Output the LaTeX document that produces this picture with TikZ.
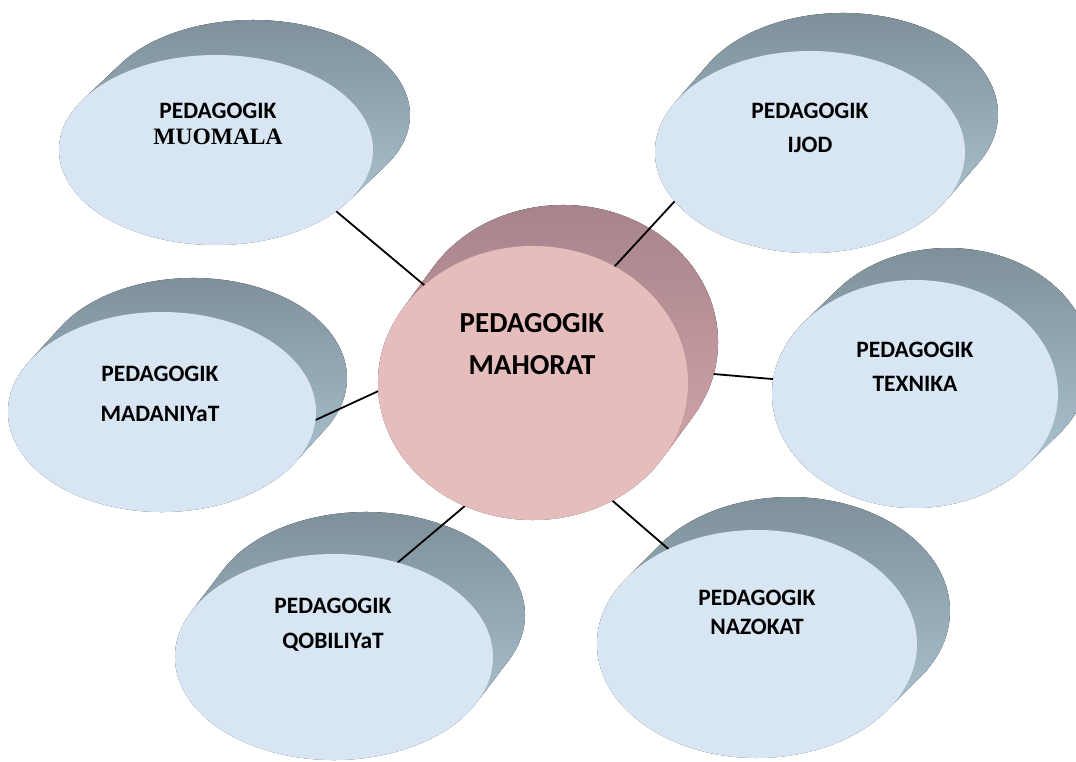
\documentclass[tikz,border=0pt]{standalone}
\usepackage{fontspec}
\setmainfont{Carlito}
\newfontfamily\timesf{Liberation Serif}
\usetikzlibrary{shapes.geometric}
\definecolor{bluefront}{HTML}{D8E5F2}
\definecolor{bluedark}{HTML}{7B8D97}
\definecolor{bluemid}{HTML}{96ACB8}
\definecolor{bluelight}{HTML}{B6CFDD}
\definecolor{pinkfront}{HTML}{E6BDBD}
\definecolor{pinkdark}{HTML}{A4818A}
\definecolor{pinkmid}{HTML}{C59CA0}
\definecolor{pinklight}{HTML}{DDAEAF}
\pgfdeclarelayer{sides}
\pgfdeclarelayer{links}
\pgfsetlayers{sides,links,main}
\tikzset{
  bfront/.style={ellipse, fill=bluefront, inner sep=0pt, outer sep=0pt},
  pfront/.style={ellipse, fill=pinkfront, inner sep=0pt, outer sep=0pt},
  ghost/.style={ellipse, inner sep=0pt, outer sep=0pt},
  bside/.style={top color=bluedark, middle color=bluemid, bottom color=bluelight},
  pside/.style={top color=pinkdark, middle color=pinkmid, bottom color=pinklight},
  conn/.style={line width=1.8pt, black},
  btext/.style={align=center, font=\bfseries\fontsize{23.5}{#1}\selectfont},
  ptext/.style={align=center, font=\bfseries\fontsize{29}{42}\selectfont},
}
% #1 style, #2 cx, #3 cy, #4 rx, #5 ry, #6 dx, #7 dy
\newcommand\bubbleside[7]{%
  \pgfmathsetmacro\thz{atan2(-#5*#6,#4*#7)}%
  \fill[#1] ({#2+#6+#4*cos(\thz)},{#3+#7+#5*sin(\thz)})
    arc[start angle=\thz, delta angle=180, x radius=#4, y radius=#5]
    -- ++(-#6,-#7)
    arc[start angle=\thz+180, delta angle=180, x radius=#4, y radius=#5]
    -- cycle;}
\begin{document}
\begin{tikzpicture}[x=1pt,y=1pt]
\useasboundingbox (0,0) rectangle (1076,761);
\clip (0,0) rectangle (1076,761);
% extrusions
\begin{pgfonlayer}{sides}
\bubbleside{bside}{216}{611}{157}{95}{37}{35}
\bubbleside{bside}{810}{609}{155}{101}{33}{38}
\bubbleside{bside}{162}{349}{154}{100}{31}{34}
\bubbleside{bside}{915}{367}{143}{114}{33}{32}
\bubbleside{bside}{334}{104}{159}{103}{32}{42}
\bubbleside{bside}{757}{117}{160}{114}{33}{33}
\bubbleside{pside}{533}{378}{155}{137}{30}{41}
\end{pgfonlayer}
% front faces
\node[ghost, minimum width=310pt, minimum height=274pt] (pkback) at (563,419) {};
\node[bfront, minimum width=314pt, minimum height=190pt] (mu) at (216,611) {};
\node[bfront, minimum width=310pt, minimum height=202pt] (ij) at (810,609) {};
\node[bfront, minimum width=308pt, minimum height=200pt] (md) at (162,349) {};
\node[bfront, minimum width=286pt, minimum height=228pt] (tx) at (915,367) {};
\node[bfront, minimum width=318pt, minimum height=206pt] (qb) at (334,104) {};
\node[bfront, minimum width=320pt, minimum height=228pt] (nz) at (757,117) {};
\node[pfront, minimum width=310pt, minimum height=274pt] (pk) at (533,378) {};
% connectors
\begin{pgfonlayer}{links}
\draw[conn] (mu.-27.5) -- (pk.138.8);
\draw[conn] (ij.200) -- (pk.55.7);
\draw[conn] (md.-3.7) -- (pk.183.7);
\draw[conn] (tx.174.3) -- (pkback.-12.8);
\draw[conn] (qb.56.4) -- (pk.-119.5);
\draw[conn] (nz.133.8) -- (pk.-56);
\end{pgfonlayer}
% texts
\node[btext=26] (mut) at (218,637) {PEDAGOGIK\\{\timesf MUOMALA}};
\node[btext=34] (ijt) at (810,633) {PEDAGOGIK\\IJOD};
\node[btext=40] (mdt) at (160,367) {PEDAGOGIK\\MADANIYaT};
\node[btext=34] (txt) at (915,394) {PEDAGOGIK\\TEXNIKA};
\node[btext=35] (qbt) at (333,136) {PEDAGOGIK\\QOBILIYaT};
\node[btext=29] (nzt) at (757,149) {PEDAGOGIK\\NAZOKAT};
\node[ptext] (pkt) at (532,417) {PEDAGOGIK\\MAHORAT};
\end{tikzpicture}
\end{document}
